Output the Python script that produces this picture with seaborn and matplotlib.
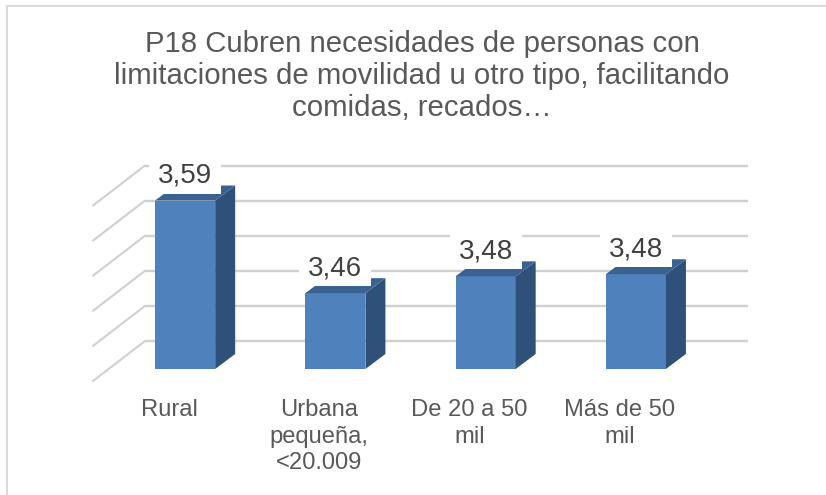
import matplotlib
matplotlib.use("Agg")
import matplotlib.pyplot as plt
from matplotlib.patches import Polygon, Rectangle
from matplotlib.transforms import blended_transform_factory, ScaledTranslation
import seaborn as sns
import pandas as pd

categories = ["Rural", "Urbana\npequeña,\n<20.009", "De 20 a 50\nmil", "Más de 50\nmil"]
values = [3.59, 3.458, 3.482, 3.485]
value_labels = ["3,59", "3,46", "3,48", "3,48"]
grid_levels = [3.35, 3.40, 3.45, 3.50, 3.55, 3.60]
title = "P18 Cubren necesidades de personas con\nlimitaciones de movilidad u otro tipo, facilitando\ncomidas, recados…"

W, H = 826, 495
sns.set_theme(style="white")
plt.rcParams["font.family"] = ["Liberation Sans", "DejaVu Sans"]

FRONT, TOP, SIDE = "#4F81BD", "#3A6291", "#2F5078"
GRID = "#D0D0D0"

def rect(l, t, r, b):
    return [l / W, 1 - b / H, (r - l) / W, (b - t) / H]

fig = plt.figure(figsize=(W / 100, H / 100), dpi=100, facecolor="white")

# frame of the chart area (left and top edges only are visible)
fig.add_artist(plt.Line2D([6.5 / W, 6.5 / W], [0, 1 - 5.5 / H], color="#D9D9D9", lw=1.4))
fig.add_artist(plt.Line2D([6.5 / W, 1], [1 - 5.5 / H, 1 - 5.5 / H], color="#D9D9D9", lw=1.4))

# back wall: gridlines + floor/side diagonals
back = fig.add_axes(rect(145, 165.5, 748, 341), zorder=1)
back.set_facecolor("none")
back.set_xlim(0, 1)
back.set_ylim(grid_levels[0], grid_levels[-1])
back.set_xticks([])
back.set_yticks([])
sns.despine(ax=back, left=True, bottom=True, right=True, top=True)
unit_y = (grid_levels[-1] - grid_levels[0]) / 175.5
trans = blended_transform_factory(back.transAxes, back.transData)
for lv in grid_levels:
    back.plot([0, 1], [lv, lv], color=GRID, lw=1.7, clip_on=False, solid_capstyle="butt")
    back.plot([0, -52 / 603], [lv, lv - 40 * unit_y], color=GRID, lw=1.5,
              transform=trans, clip_on=False)

# front plane with the bars
ax = fig.add_axes(rect(110, 193.5, 711, 369), zorder=2)
ax.set_facecolor("none")
df = pd.DataFrame({"cat": categories, "val": values})
sns.barplot(data=df, x="cat", y="val", color=FRONT, saturation=1, width=0.4, ax=ax,
            zorder=3, linewidth=0)
ax.set_xlim(-0.5, 3.5)
ax.set_ylim(3.35, 3.60)
ax.set_yticks([])
ax.set_xlabel("")
ax.set_ylabel("")
sns.despine(ax=ax, left=True, bottom=True)
ax.tick_params(axis="x", length=0, pad=21.5, labelsize=17.1, labelcolor="#595959")
shift = ScaledTranslation(-16 / 100, 0, fig.dpi_scale_trans)
for t in ax.get_xticklabels():
    t.set_linespacing(1.28)
    t.set_transform(t.get_transform() + shift)

ux = 4 / 601
uy = 0.25 / 175.5
dx = 20 * ux
dy = 15 * uy
hw = 0.2
base = 3.35
for i, v in enumerate(values):
    ax.add_patch(Polygon([(i + hw, base), (i + hw + dx, base + dy), (i + hw + dx, v + dy), (i + hw, v)],
                         closed=True, fc=SIDE, ec="none", zorder=4, clip_on=False))
    ax.add_patch(Polygon([(i - hw, v), (i - hw + dx, v + dy), (i + hw + dx, v + dy), (i + hw, v)],
                         closed=True, fc=TOP, ec="none", zorder=4, clip_on=False))
    ax.add_patch(Rectangle((i - 36 * ux, v + 7 * uy), 72 * ux, 42 * uy, fc="white", ec="none",
                           zorder=4.5, clip_on=False))
    ax.annotate(value_labels[i], xy=(i, v), xytext=(0, 18), textcoords="offset points",
                ha="center", va="center", fontsize=20, color="#404040", zorder=5,
                annotation_clip=False)

fig.text(422 / W, 1 - 76 / H, title, ha="center", va="center", fontsize=21.2,
         color="#595959", linespacing=1.2)

fig.savefig("out.png", dpi=100, facecolor="white")
